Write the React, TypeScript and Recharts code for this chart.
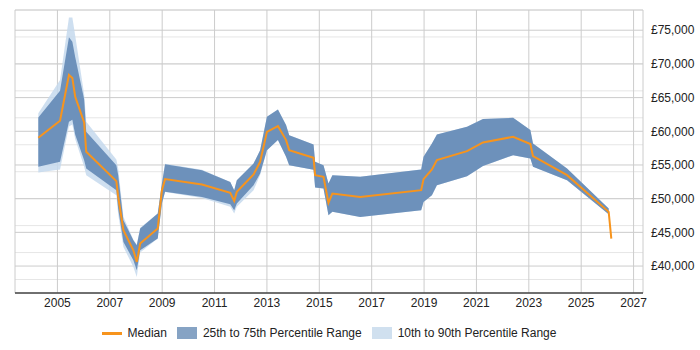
import { Area, CartesianGrid, ComposedChart, Legend, Line, XAxis, YAxis } from "recharts";

const years = [
  2004.27, 2005.1, 2005.44, 2005.57, 2005.68, 2006.02, 2006.1, 2007.25, 2007.32, 2007.52, 2007.9,
  2008.03, 2008.16, 2008.83, 2008.99, 2009.11, 2010.52, 2011.6, 2011.75, 2011.85, 2012.49, 2012.74,
  2013.0, 2013.42, 2013.73, 2013.85, 2014.78, 2014.84, 2015.16, 2015.35, 2015.5, 2016.56, 2018.89,
  2018.98, 2019.3, 2019.49, 2020.64, 2021.25, 2022.4, 2023.06, 2023.16, 2024.46, 2026.05, 2026.15,
];

const median = [
  59030, 61560, 68350, 67900, 65120, 61320, 56950, 52600, 50260, 45320, 42340, 40610, 43340, 45570,
  51260, 52900, 52100, 50860, 49670, 51010, 53590, 55470, 59920, 60770, 58690, 57200, 56060, 53490,
  53240, 49370, 50770, 50260, 51260, 52900, 54340, 55720, 57050, 58350, 59180, 58100, 56310, 53490,
  48040, 44080,
];

const p75 = [
  62060, 66000, 73950, 73300, 70980, 64740, 59920, 54970, 53500, 46800, 43830, 43090, 45570, 47800,
  52250, 55120, 54230, 52490, 51260, 52750, 55220, 57200, 62150, 63250, 60920, 59430, 58050, 55470,
  54970, 52250, 53490, 53240, 54340, 56210, 58190, 59530, 60670, 61810, 62000, 60180, 58190, 54480,
  48540, null,
];

const p25 = [
  54720, 55470, 61400, 61700, 59500, 55720, 54480, 51260, 48500, 43580, 40860, 39370, 42340, 44080,
  49280, 51010, 50260, 49180, 48270, 49280, 52000, 53740, 57200, 58690, 56210, 54970, 54300, 51660,
  51510, 47540, 48040, 47290, 48290, 49520, 50520, 52000, 53340, 54830, 56460, 55970, 54720, 52750,
  47690, null,
];

const p90 = [
  62660, 67600, 76900, 76900, 74190, 65500, 61410, 55820, 54500, 47300, 43900, 43200, 45700, 47800,
  52250, 55200, 54300, 52490, 51260, 52750, 55220, 57200, 62150, 63250, 60920, 59430, 58050, 55470,
  54970, 52250, 53490, 53240, 54340, 56210, 58190, 59530, 60670, 61810, 62000, 60180, 58190, 54480,
  48540, null,
];

const p10 = [
  53890, 54340, 60700, 61000, 58800, 54720, 53490, 50520, 47700, 42840, 39860, 38380, 42000, 44080,
  49280, 51000, 50100, 48800, 47800, 48800, 51260, 53500, 57200, 58690, 56210, 54970, 54300, 51660,
  51510, 47540, 48040, 47290, 48290, 49520, 50520, 52000, 53340, 54830, 56460, 55970, 54720, 52750,
  47690, null,
];

const xTicks = [2005, 2007, 2009, 2011, 2013, 2015, 2017, 2019, 2021, 2023, 2025, 2027];
const yTicks = [40000, 45000, 50000, 55000, 60000, 65000, 70000, 75000];
const yMinorTicks = Array.from({ length: 43 }, (_, i) => 36000 + i * 1000);

const data = years.map((year, i) => ({
  year,
  median: median[i],
  iqr: p25[i] == null ? null : [p25[i], p75[i]],
  range: p10[i] == null ? null : [p10[i], p90[i]],
}));

const ORANGE = "#f7941d";
const DARK = "#6d91bb";
const LIGHT = "#c6d9ed";
const FONT = "'Liberation Sans', Arial, sans-serif";

function ChartLegend() {
  const item = { display: "flex", alignItems: "center" };
  const text = { marginLeft: 6, color: "#222", fontSize: 12 };
  return (
    <div style={{ display: "flex", justifyContent: "center", fontFamily: FONT, height: 24, alignItems: "center" }}>
      <div style={{ ...item, marginRight: 10 }}>
        <span style={{ width: 20, height: 3, background: ORANGE, display: "inline-block" }} />
        <span style={text}>Median</span>
      </div>
      <div style={{ ...item, marginRight: 10 }}>
        <span style={{ width: 20, height: 12, background: "#86a3c4", display: "inline-block" }} />
        <span style={text}>25th to 75th Percentile Range</span>
      </div>
      <div style={item}>
        <span style={{ width: 20, height: 12, background: "#d0e0ef", display: "inline-block" }} />
        <span style={text}>10th to 90th Percentile Range</span>
      </div>
    </div>
  );
}

export default function App() {
  return (
    <div style={{ position: "absolute", left: 0, top: 0 }}>
      <ComposedChart
        width={700}
        height={350}
        data={data}
        margin={{ top: 10, right: 0, bottom: 5, left: 15 }}
      >
        <CartesianGrid yAxisId="minor" vertical={false} stroke="#e6e6e6" />
        <CartesianGrid stroke="#cccccc" />
        <XAxis
          dataKey="year"
          type="number"
          domain={[2003.38, 2027.36]}
          ticks={xTicks}
          allowDataOverflow
          axisLine={{ stroke: "#000" }}
          tickLine={false}
          tickSize={4}
          tickMargin={1}
          height={28}
          tick={{ fill: "#222", fontSize: 12, fontFamily: FONT }}
        />
        <YAxis
          orientation="right"
          domain={[36000, 78000]}
          ticks={yTicks}
          allowDataOverflow
          axisLine={false}
          tickLine={false}
          width={57}
          tick={{ fill: "#222", fontSize: 12, fontFamily: FONT }}
          tickFormatter={(v: number) => "£" + String(v).replace(/\B(?=(\d{3})+(?!\d))/g, ",")}
        />
        <YAxis yAxisId="minor" hide domain={[36000, 78000]} ticks={yMinorTicks} allowDataOverflow />
        <Area
          dataKey="range"
          type="linear"
          stroke="none"
          fill={LIGHT}
          fillOpacity={0.85}
          isAnimationActive={false}
          activeDot={false}
        />
        <Area
          dataKey="iqr"
          type="linear"
          stroke="none"
          fill={DARK}
          fillOpacity={1}
          isAnimationActive={false}
          activeDot={false}
        />
        <Line
          dataKey="median"
          type="linear"
          stroke={ORANGE}
          strokeWidth={2}
          dot={false}
          activeDot={false}
          isAnimationActive={false}
        />
        <Legend
          verticalAlign="bottom"
          height={24}
          content={() => <ChartLegend />}
          wrapperStyle={{ left: 0, width: 658 }}
        />
      </ComposedChart>
    </div>
  );
}
